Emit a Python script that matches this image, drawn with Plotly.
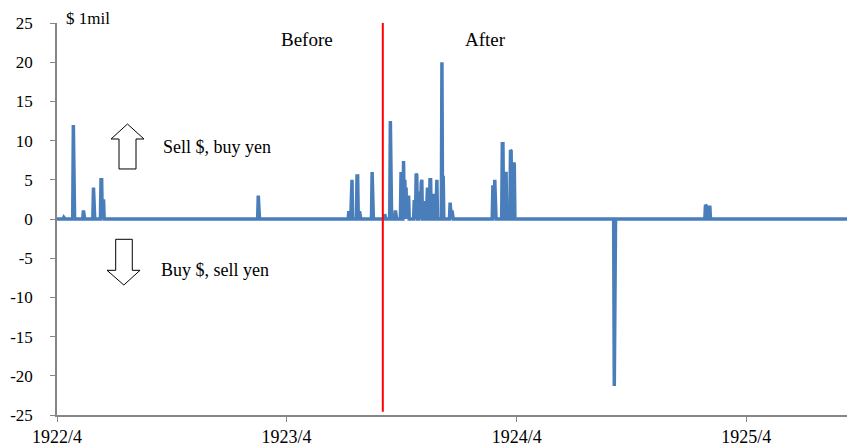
import pandas as pd
import plotly.graph_objects as go

# ---------------------------------------------------------
# data: intervention amounts ($ 1mil), only non-zero days listed
# ---------------------------------------------------------
START = "1922-04-01"
END = "1925-09-08"
CUTOFF = "1923-09-01"   # red line (before / after)

event_dates = [
    "1922-04-12", "1922-04-27", "1922-05-13", "1922-05-29",
    "1922-06-10", "1922-06-11", "1922-06-13", "1922-06-14",
    "1923-02-15",
    "1923-07-09", "1923-07-13", "1923-07-14", "1923-07-22", "1923-07-23",
    "1923-07-26", "1923-08-15",
    "1923-09-04", "1923-09-13", "1923-09-21", "1923-09-30", "1923-10-04",
    "1923-10-06", "1923-10-08", "1923-10-10", "1923-10-12", "1923-10-21",
    "1923-10-24", "1923-10-25", "1923-10-29", "1923-11-01", "1923-11-02",
    "1923-11-06", "1923-11-10", "1923-11-11", "1923-11-15", "1923-11-16",
    "1923-11-21", "1923-11-25", "1923-11-26", "1923-12-04", "1923-12-06",
    "1923-12-17", "1923-12-20",
    "1924-02-23", "1924-02-26", "1924-03-09", "1924-03-10", "1924-03-14",
    "1924-03-15", "1924-03-22", "1924-03-23", "1924-03-27", "1924-03-28",
    "1924-09-03",
    "1925-01-26", "1925-01-27", "1925-02-01", "1925-02-02",
]
event_values = [
    0.2, 12.0, 1.1, 4.0,
    5.0, 5.0, 2.5, 2.5,
    3.0,
    1.0, 5.0, 5.0, 5.5, 5.5,
    1.0, 6.0,
    0.6, 12.5, 1.1, 6.0, 7.4,
    5.0, 4.0, 3.0, 3.0, 2.4,
    5.8, 5.6, 3.5, 4.5, 5.0,
    2.3, 4.0, 4.0, 5.0, 5.0,
    3.2, 5.0, 5.0, 20.0, 5.5,
    2.1, 1.1,
    4.3, 5.0, 9.6, 9.6, 5.8,
    5.8, 8.8, 8.7, 7.2, 7.0,
    -21.3,
    1.8, 1.7, 1.5, 1.5,
]

tick_vals = ["1922-04-01", "1923-04-01", "1924-04-01", "1925-04-01"]
tick_text = ["1922/4", "1923/4", "1924/4", "1925/4"]
y_ticks = [-25, -20, -15, -10, -5, 0, 5, 10, 15, 20, 25]
y_tick_text = [str(v) for v in y_ticks]   # plain hyphen minus, like Excel

# daily series (zero on days without intervention)
days = pd.date_range(START, END, freq="D")
s = pd.Series(0.0, index=days)
s.loc[pd.to_datetime(event_dates)] = event_values

FONT = "Liberation Serif"
W, H = 847, 447
L, R, T, B = 57, 0, 23, 32
PW, PH = W - L - R, H - T - B


def pp(x, y):
    """pixel -> paper coords"""
    return (x - L) / PW, (H - B - y) / PH


def path(points):
    pts = [pp(x, y) for x, y in points]
    return "M " + " L ".join(f"{a:.4f},{b:.4f}" for a, b in pts) + " Z"


fig = go.Figure()
fig.add_trace(go.Scatter(
    x=s.index, y=s.values, mode="lines",
    line=dict(color="#4A7EBB", width=3.5),
    showlegend=False, hoverinfo="x+y",
))

# red divider line
fig.add_shape(
    type="line", x0=CUTOFF, x1=CUTOFF, y0=-24.6, y1=26.1,
    xref="x", yref="y", line=dict(color="#FF0000", width=2), layer="above",
)

# outline arrows
up_arrow = [(127.5, 124), (144, 139), (136, 139), (136, 169),
            (119, 169), (119, 139), (111, 139)]
down_arrow = [(115.7, 239.3), (132.3, 239.3), (132.3, 270.3), (140, 270.3),
              (123.8, 285), (107, 270.3), (115.7, 270.3)]
for pts in (up_arrow, down_arrow):
    fig.add_shape(
        type="path", path=path(pts), xref="paper", yref="paper",
        line=dict(color="black", width=1), fillcolor="white",
    )

# labels
labels = [
    ("$ 1mil", 64, 18, 17),
    ("Before", 279, 39, 19),
    ("After", 463, 39, 19),
    ("Sell $, buy yen", 161, 147, 18),
    ("Buy $, sell yen", 159, 270, 18),
]
for txt, x, y, size in labels:
    xp, yp = pp(x, y)
    fig.add_annotation(
        x=xp, y=yp, xref="paper", yref="paper", text=txt,
        showarrow=False, xanchor="left", yanchor="middle",
        font=dict(family=FONT, size=size, color="black"),
    )

fig.update_xaxes(
    type="date", range=[START, END], automargin=False,
    tickvals=tick_vals, ticktext=tick_text,
    showgrid=False, zeroline=False,
    showline=True, linecolor="#868686", linewidth=1.5,
    ticks="outside", ticklen=5, tickcolor="#868686",
    tickfont=dict(family=FONT, size=18, color="black"),
)
fig.update_yaxes(
    range=[-25, 25], automargin=False,
    tickvals=y_ticks, ticktext=y_tick_text,
    showgrid=False, zeroline=False,
    showline=True, linecolor="#868686", linewidth=1.5,
    ticks="outside", ticklen=5, tickcolor="#868686",
    ticklabelstandoff=14,
    tickfont=dict(family=FONT, size=17, color="black"),
)
fig.update_layout(
    width=W, height=H,
    margin=dict(l=L, r=R, t=T, b=B),
    plot_bgcolor="white", paper_bgcolor="white",
    showlegend=False,
)

# page body has a default 8px margin; drop it so the figure sits at (0, 0)
fig.write_html(
    "out.html",
    config={"displayModeBar": False},
    post_script="document.body.style.margin='0';",
)
